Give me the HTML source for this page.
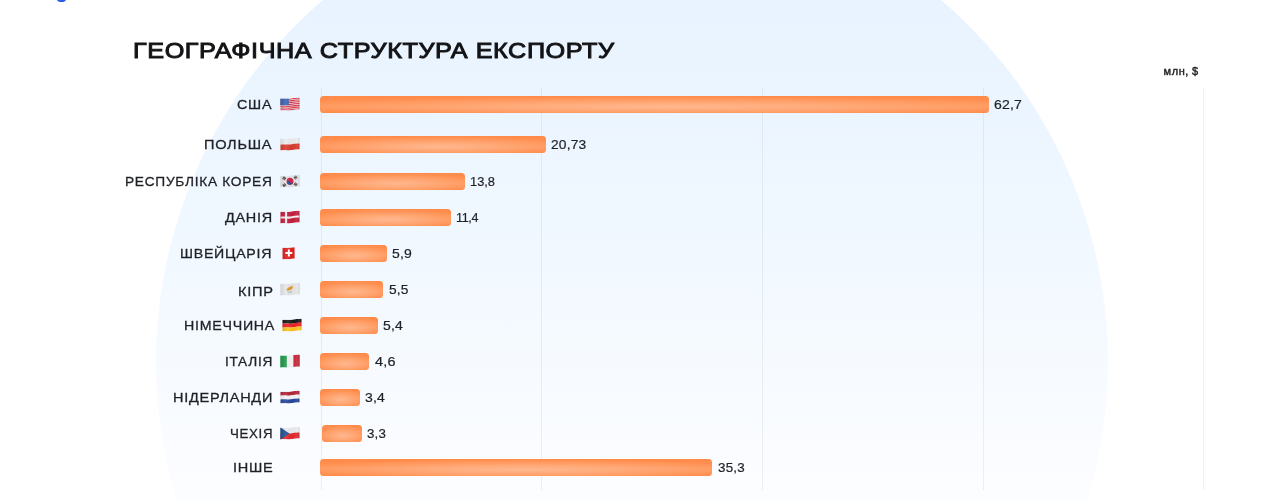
<!DOCTYPE html>
<html lang="uk">
<head>
<meta charset="utf-8">
<title>Географічна структура експорту</title>
<style>
html,body{margin:0;padding:0;}
body{width:1280px;height:500px;overflow:hidden;background:#fff;position:relative;font-family:"Liberation Sans",sans-serif;color:#1d1d1f;}
.circle{position:absolute;left:155.5px;top:-114px;width:952px;height:952px;border-radius:50%;
 background:linear-gradient(180deg,#e8f3ff 114px,#ebf5ff 214px,#eff7ff 314px,#f3f9ff 414px,#f8fbff 514px,#fcfdff 614px,#ffffff 700px);}
.logo{position:absolute;left:56.8px;top:-10px;width:8.8px;height:11.9px;background:#2b5ce6;border-radius:0 0 4.4px 4.4px / 0 0 3px 3px;}
h1{position:absolute;left:132.5px;top:37px;margin:0;font-size:22.5px;line-height:28px;font-weight:400;letter-spacing:0.5px;word-spacing:0px;white-space:nowrap;color:#131316;transform-origin:0 50%;transform:scaleX(1.122);-webkit-text-stroke:0.95px #131316;}
.unit{position:absolute;left:1163.6px;top:63.7px;font-size:11px;line-height:14px;font-weight:400;letter-spacing:0.55px;word-spacing:-0.6px;color:#1d1d1f;white-space:nowrap;-webkit-text-stroke:0.4px #1d1d1f;}
.grid{position:absolute;top:88px;width:1px;height:402px;background:rgba(100,112,135,0.1);}
.lbl,.val{position:absolute;height:16px;line-height:16px;font-size:13.5px;white-space:nowrap;color:#1f2126;transform-origin:0 50%;-webkit-text-stroke:0.22px #1f2126;}
.bar{position:absolute;height:17px;border-radius:3.5px;background:linear-gradient(180deg,rgba(255,190,150,0) 0%,rgba(255,190,150,0.22) 62%,rgba(255,160,110,0) 100%),radial-gradient(ellipse 62% 62% at 52% 63%,#ffb68c 0%,#ffa06a 50%,#ff8a48 100%);}
.lbl{-webkit-text-stroke-width:0.3px;}
.flag{position:absolute;display:block;overflow:visible;}
</style>
</head>
<body>
<svg width="0" height="0" style="position:absolute"><defs><clipPath id="wv"><path d="M0.3,1.8 C4,1.3 7,2.1 10.5,1.6 C14,1 17,0.5 19.7,0.8 L19.7,12.5 C17,12.2 14,12.7 10.5,13.3 C7,13.8 4,13 0.3,13.5 Z"/></clipPath><clipPath id="wvs"><path d="M0.4,1.8 C3,1.4 5,2.0 7,1.6 C9,1.2 11,0.6 12.6,0.8 L12.6,12.5 C11,12.3 9,12.9 7,13.3 C5,13.7 3,13.1 0.4,13.5 Z"/></clipPath><linearGradient id="shade" x1="0" y1="0" x2="1" y2="0"><stop offset="0" stop-color="#000" stop-opacity="0.10"/><stop offset="0.3" stop-color="#fff" stop-opacity="0.10"/><stop offset="0.6" stop-color="#000" stop-opacity="0.02"/><stop offset="0.85" stop-color="#fff" stop-opacity="0.08"/><stop offset="1" stop-color="#000" stop-opacity="0.12"/></linearGradient></defs></svg>
<div class="circle"></div>
<div class="logo"></div>
<h1>ГЕОГРАФІЧНА СТРУКТУРА ЕКСПОРТУ</h1>
<div class="unit">млн, $</div>
<div class="grid" style="left:320.5px"></div>
<div class="grid" style="left:541px"></div>
<div class="grid" style="left:762px"></div>
<div class="grid" style="left:983px"></div>
<div class="grid" style="left:1203px"></div>
<div class="bar" style="left:320px;top:96px;width:669px"></div>
<div class="lbl" style="left:237.28px;top:97.2px;letter-spacing:0.7px;transform:scaleX(1.0617)">США</div>
<div class="val" style="left:994.21px;top:97.2px;letter-spacing:0.2px;transform:scaleX(1.0377)">62,7</div>
<svg class="flag" style="left:280.3px;top:97.2px" width="20" height="14" viewBox="0 0 20 14"><g clip-path="url(#wv)"><path d="M0.3,1.8 C4,1.3 7,2.1 10.5,1.6 C14,1 17,0.5 19.7,0.8 L19.7,12.5 C17,12.2 14,12.7 10.5,13.3 C7,13.8 4,13 0.3,13.5 Z" fill="#f6e4e6"/><path d="M0.3,1.71 C4,1.21 7,2.01 10.5,1.51 C14,0.91 17,0.41 19.7,0.71 L19.7,1.79 C17,1.49 14,1.99 10.5,2.59 C7,3.09 4,2.29 0.3,2.79 Z" fill="#d6364a"/><path d="M0.3,3.51 C4,3.01 7,3.81 10.5,3.31 C14,2.71 17,2.21 19.7,2.51 L19.7,3.59 C17,3.29 14,3.79 10.5,4.39 C7,4.89 4,4.09 0.3,4.59 Z" fill="#d6364a"/><path d="M0.3,5.31 C4,4.81 7,5.61 10.5,5.11 C14,4.51 17,4.01 19.7,4.31 L19.7,5.39 C17,5.09 14,5.59 10.5,6.19 C7,6.69 4,5.89 0.3,6.39 Z" fill="#d6364a"/><path d="M0.3,7.11 C4,6.61 7,7.41 10.5,6.91 C14,6.31 17,5.81 19.7,6.11 L19.7,7.19 C17,6.89 14,7.39 10.5,7.99 C7,8.49 4,7.69 0.3,8.19 Z" fill="#d6364a"/><path d="M0.3,8.91 C4,8.41 7,9.21 10.5,8.71 C14,8.11 17,7.61 19.7,7.91 L19.7,8.99 C17,8.69 14,9.19 10.5,9.79 C7,10.29 4,9.49 0.3,9.99 Z" fill="#d6364a"/><path d="M0.3,10.71 C4,10.21 7,11.01 10.5,10.51 C14,9.91 17,9.41 19.7,9.71 L19.7,10.79 C17,10.49 14,10.99 10.5,11.59 C7,12.09 4,11.29 0.3,11.79 Z" fill="#d6364a"/><path d="M0.3,12.51 C4,12.01 7,12.81 10.5,12.31 C14,11.71 17,11.21 19.7,11.51 L19.7,12.59 C17,12.29 14,12.79 10.5,13.39 C7,13.89 4,13.09 0.3,13.59 Z" fill="#d6364a"/><path d="M0,0 H8.8 V8.2 H0 Z" fill="#3a64b4"/><rect x="0" y="0" width="20" height="14" fill="url(#shade)"/></g></svg>
<div class="bar" style="left:320px;top:136px;width:226px"></div>
<div class="lbl" style="left:204.4px;top:137.2px;letter-spacing:0.7px;transform:scaleX(1.0777)">ПОЛЬША</div>
<div class="val" style="left:551.36px;top:137px;letter-spacing:0.2px;transform:scaleX(1.02)">20,73</div>
<svg class="flag" style="left:280.3px;top:137.2px" width="20" height="14" viewBox="0 0 20 14"><g clip-path="url(#wv)"><path d="M0.3,1.8 C4,1.3 7,2.1 10.5,1.6 C14,1 17,0.5 19.7,0.8 L19.7,6.65 C17,6.35 14,6.85 10.5,7.45 C7,7.95 4,7.15 0.3,7.65 Z" fill="#ececee"/><path d="M0.3,7.65 C4,7.15 7,7.95 10.5,7.45 C14,6.85 17,6.35 19.7,6.65 L19.7,12.5 C17,12.2 14,12.7 10.5,13.3 C7,13.8 4,13 0.3,13.5 Z" fill="#d93a30"/><rect x="0" y="0" width="20" height="14" fill="url(#shade)"/></g></svg>
<div class="bar" style="left:320px;top:173px;width:145px"></div>
<div class="lbl" style="left:125.49px;top:173.6px;letter-spacing:0.7px;transform:scaleX(1.0154)">РЕСПУБЛІКА КОРЕЯ</div>
<div class="val" style="left:470.05px;top:173.6px;letter-spacing:0px;transform:scaleX(0.95)">13,8</div>
<svg class="flag" style="left:280.3px;top:174.2px" width="20" height="14" viewBox="0 0 20 14"><g clip-path="url(#wv)"><path d="M0.3,1.8 C4,1.3 7,2.1 10.5,1.6 C14,1 17,0.5 19.7,0.8 L19.7,12.5 C17,12.2 14,12.7 10.5,13.3 C7,13.8 4,13 0.3,13.5 Z" fill="#e6e6e8"/><circle cx="10" cy="7.3" r="3.5" fill="#d02648"/><path d="M6.7,8.5 A3.5,3.5 0 0 0 13.4,8.1 A1.7,1.7 0 0 1 10.1,8.1 A1.75,1.75 0 0 0 6.7,8.5 Z" fill="#2a4f9a"/><g transform="translate(4.3,4.3) rotate(-56)" fill="#2b2b2b"><rect x="-1.5" y="-1.5" width="3" height="0.8"/><rect x="-1.5" y="-0.4" width="3" height="0.8"/><rect x="-1.5" y="0.7" width="3" height="0.8"/></g><g transform="translate(15.6,3.5) rotate(56)" fill="#2b2b2b"><rect x="-1.5" y="-1.5" width="3" height="0.8"/><rect x="-1.5" y="-0.4" width="3" height="0.8"/><rect x="-1.5" y="0.7" width="3" height="0.8"/></g><g transform="translate(4.4,11.2) rotate(56)" fill="#2b2b2b"><rect x="-1.5" y="-1.5" width="3" height="0.8"/><rect x="-1.5" y="-0.4" width="3" height="0.8"/><rect x="-1.5" y="0.7" width="3" height="0.8"/></g><g transform="translate(15.6,10.4) rotate(-56)" fill="#2b2b2b"><rect x="-1.5" y="-1.5" width="3" height="0.8"/><rect x="-1.5" y="-0.4" width="3" height="0.8"/><rect x="-1.5" y="0.7" width="3" height="0.8"/></g><rect x="0" y="0" width="20" height="14" fill="url(#shade)"/></g></svg>
<div class="bar" style="left:320px;top:209px;width:131px"></div>
<div class="lbl" style="left:224.96px;top:209.7px;letter-spacing:0.7px;transform:scaleX(1.0661)">ДАНІЯ</div>
<div class="val" style="left:456.47px;top:209.8px;letter-spacing:-0.4px;transform:scaleX(0.93)">11,4</div>
<svg class="flag" style="left:280px;top:210.2px" width="20" height="14" viewBox="0 0 20 14"><g clip-path="url(#wv)"><path d="M0.3,1.8 C4,1.3 7,2.1 10.5,1.6 C14,1 17,0.5 19.7,0.8 L19.7,12.5 C17,12.2 14,12.7 10.5,13.3 C7,13.8 4,13 0.3,13.5 Z" fill="#c4203f"/><path d="M0.3,6.6 C4,6.1 7,6.9 10.5,6.4 C14,5.8 17,5.3 19.7,5.6 L19.7,7.7 C17,7.4 14,7.9 10.5,8.5 C7,9 4,8.2 0.3,8.7 Z" fill="#f6eef0"/><rect x="5.1" y="0" width="2" height="14" fill="#f6eef0"/><rect x="0" y="0" width="20" height="14" fill="url(#shade)"/></g></svg>
<div class="bar" style="left:320px;top:245px;width:67px"></div>
<div class="lbl" style="left:180.16px;top:245.8px;letter-spacing:0.7px;transform:scaleX(1.0485)">ШВЕЙЦАРІЯ</div>
<div class="val" style="left:392.38px;top:245.6px;letter-spacing:0.2px;transform:scaleX(1.0349)">5,9</div>
<svg class="flag" style="left:282px;top:246.2px" width="20" height="14" viewBox="0 0 20 14"><g clip-path="url(#wvs)"><path d="M0.3,1.8 C4,1.3 7,2.1 10.5,1.6 C14,1 17,0.5 19.7,0.8 L19.7,12.5 C17,12.2 14,12.7 10.5,13.3 C7,13.8 4,13 0.3,13.5 Z" fill="#e0221d"/><rect x="0" y="0" width="20" height="14" fill="url(#shade)"/></g><path d="M5.9,3.6 h1.9 v2.5 h2.5 v1.9 h-2.5 v2.5 h-1.9 v-2.5 h-2.5 v-1.9 h2.5 Z" fill="#fff"/></svg>
<div class="bar" style="left:320px;top:281px;width:63px"></div>
<div class="lbl" style="left:237.71px;top:284.2px;letter-spacing:0.7px;transform:scaleX(1.0829)">КІПР</div>
<div class="val" style="left:388.52px;top:281.6px;letter-spacing:0.2px;transform:scaleX(1.0179)">5,5</div>
<svg class="flag" style="left:280.3px;top:282.2px" width="20" height="14" viewBox="0 0 20 14"><g clip-path="url(#wv)"><path d="M0.3,1.8 C4,1.3 7,2.1 10.5,1.6 C14,1 17,0.5 19.7,0.8 L19.7,12.5 C17,12.2 14,12.7 10.5,13.3 C7,13.8 4,13 0.3,13.5 Z" fill="#e6e7e9"/><path d="M6.5,7.6 C7.5,5.6 10,5.2 12.8,3.6 C12.2,5.2 13.2,5.6 12.4,6.6 C11.4,8 9.2,8.6 7.6,8.6 C6.9,8.6 6.4,8.2 6.5,7.6 Z" fill="#e39a2c"/><path d="M7.6,9.6 C8.6,10.6 10.8,10.6 12,9.5" stroke="#9bb59a" stroke-width="0.8" fill="none"/><rect x="0" y="0" width="20" height="14" fill="url(#shade)"/></g></svg>
<div class="bar" style="left:320px;top:317px;width:58px"></div>
<div class="lbl" style="left:183.9px;top:317.9px;letter-spacing:0.7px;transform:scaleX(1.0524)">НІМЕЧЧИНА</div>
<div class="val" style="left:383.09px;top:317.9px;letter-spacing:0.2px;transform:scaleX(1.035)">5,4</div>
<svg class="flag" style="left:282.3px;top:318.2px" width="20" height="14" viewBox="0 0 20 14"><g clip-path="url(#wv)"><path d="M0.3,1.8 C4,1.3 7,2.1 10.5,1.6 C14,1 17,0.5 19.7,0.8 L19.7,4.78 C17,4.48 14,4.98 10.5,5.58 C7,6.08 4,5.28 0.3,5.78 Z" fill="#1a1a1a"/><path d="M0.3,5.66 C4,5.16 7,5.96 10.5,5.46 C14,4.86 17,4.36 19.7,4.66 L19.7,8.64 C17,8.34 14,8.84 10.5,9.44 C7,9.94 4,9.14 0.3,9.64 Z" fill="#ee2028"/><path d="M0.3,9.52 C4,9.02 7,9.82 10.5,9.32 C14,8.72 17,8.22 19.7,8.52 L19.7,12.5 C17,12.2 14,12.7 10.5,13.3 C7,13.8 4,13 0.3,13.5 Z" fill="#fbc41f"/><rect x="0" y="0" width="20" height="14" fill="url(#shade)"/></g></svg>
<div class="bar" style="left:320px;top:353px;width:49px"></div>
<div class="lbl" style="left:224.92px;top:353.9px;letter-spacing:0.7px;transform:scaleX(1.0114)">ІТАЛІЯ</div>
<div class="val" style="left:375.09px;top:353.9px;letter-spacing:0.2px;transform:scaleX(1.0687)">4,6</div>
<svg class="flag" style="left:280px;top:354.2px" width="20" height="14" viewBox="0 0 20 14"><g clip-path="url(#wv)"><rect x="0" y="0" width="6.9" height="14" fill="#1f9a4a"/><rect x="6.9" y="0" width="6.5" height="14" fill="#f5f5f5"/><rect x="13.4" y="0" width="6.6" height="14" fill="#c9283c"/><rect x="0" y="0" width="20" height="14" fill="url(#shade)"/></g></svg>
<div class="bar" style="left:320px;top:389px;width:40px"></div>
<div class="lbl" style="left:173.29px;top:390px;letter-spacing:0.7px;transform:scaleX(1.072)">НІДЕРЛАНДИ</div>
<div class="val" style="left:365.33px;top:390px;letter-spacing:0.2px;transform:scaleX(1.0385)">3,4</div>
<svg class="flag" style="left:280px;top:390.2px" width="20" height="14" viewBox="0 0 20 14"><g clip-path="url(#wv)"><path d="M0.3,1.8 C4,1.3 7,2.1 10.5,1.6 C14,1 17,0.5 19.7,0.8 L19.7,4.78 C17,4.48 14,4.98 10.5,5.58 C7,6.08 4,5.28 0.3,5.78 Z" fill="#b5243a"/><path d="M0.3,5.66 C4,5.16 7,5.96 10.5,5.46 C14,4.86 17,4.36 19.7,4.66 L19.7,8.64 C17,8.34 14,8.84 10.5,9.44 C7,9.94 4,9.14 0.3,9.64 Z" fill="#f4f4f6"/><path d="M0.3,9.52 C4,9.02 7,9.82 10.5,9.32 C14,8.72 17,8.22 19.7,8.52 L19.7,12.5 C17,12.2 14,12.7 10.5,13.3 C7,13.8 4,13 0.3,13.5 Z" fill="#27489b"/><rect x="0" y="0" width="20" height="14" fill="url(#shade)"/></g></svg>
<div class="bar" style="left:322px;top:425px;width:40px"></div>
<div class="lbl" style="left:229.8px;top:426px;letter-spacing:0.7px;transform:scaleX(0.9812)">ЧЕХІЯ</div>
<div class="val" style="left:367.11px;top:426px;letter-spacing:0.2px;transform:scaleX(0.9839)">3,3</div>
<svg class="flag" style="left:280.3px;top:426.2px" width="20" height="14" viewBox="0 0 20 14"><g clip-path="url(#wv)"><path d="M0.3,1.8 C4,1.3 7,2.1 10.5,1.6 C14,1 17,0.5 19.7,0.8 L19.7,6.65 C17,6.35 14,6.85 10.5,7.45 C7,7.95 4,7.15 0.3,7.65 Z" fill="#ececee"/><path d="M0.3,7.65 C4,7.15 7,7.95 10.5,7.45 C14,6.85 17,6.35 19.7,6.65 L19.7,12.5 C17,12.2 14,12.7 10.5,13.3 C7,13.8 4,13 0.3,13.5 Z" fill="#e02a2e"/><path d="M0,1 L9.4,7.6 L0,14 Z" fill="#1f5393"/><rect x="0" y="0" width="20" height="14" fill="url(#shade)"/></g></svg>
<div class="bar" style="left:320px;top:459px;width:392px"></div>
<div class="lbl" style="left:232.87px;top:459.6px;letter-spacing:0.7px;transform:scaleX(1.0748)">ІНШЕ</div>
<div class="val" style="left:717.79px;top:459.6px;letter-spacing:0.2px;transform:scaleX(0.9903)">35,3</div>
</body>
</html>
